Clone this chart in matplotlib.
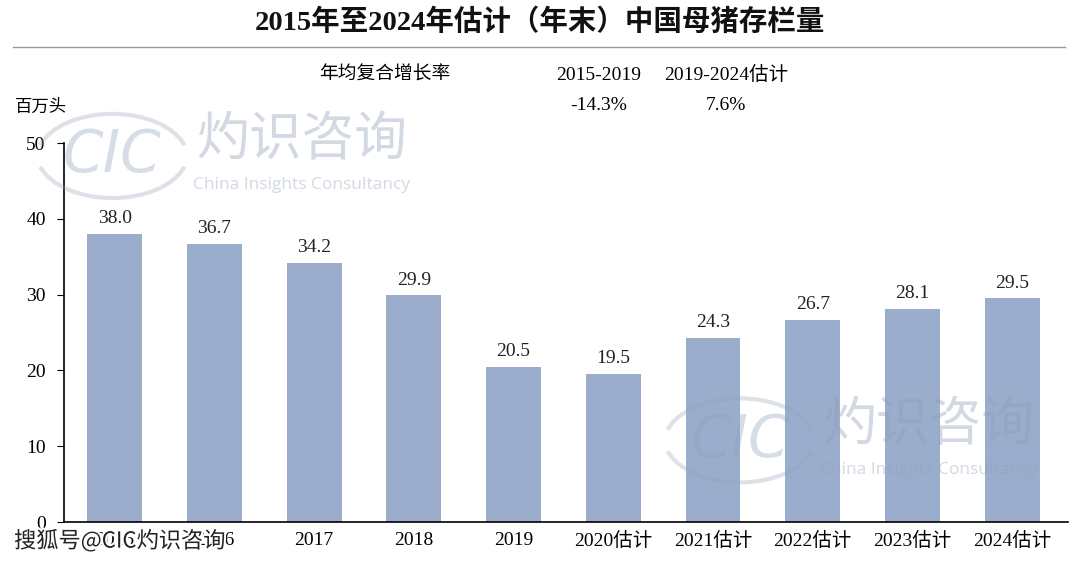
import numpy as np
import matplotlib.pyplot as plt
import matplotlib.patheffects as pe
from matplotlib.patches import Arc

years = ["2015", "2016", "2017", "2018", "2019",
         "2020估计", "2021估计", "2022估计", "2023估计", "2024估计"]
sows = [38.0, 36.7, 34.2, 29.9, 20.5, 19.5, 24.3, 26.7, 28.1, 29.5]
cagr_periods = ["2015-2019", "2019-2024估计"]
cagr_values = ["-14.3%", "7.6%"]

plt.rcParams['font.family'] = ['Liberation Serif', 'Noto Sans CJK SC']

fig = plt.figure(figsize=(10.8, 5.61), dpi=100)
ax = fig.add_axes([0.059, 0.0695, 0.930, 0.6755])

x = np.arange(len(years))
ax.bar(x, sows, width=0.55, color='#9aadcc', zorder=2)
for xi, v in zip(x, sows):
    ax.text(xi, v + 0.9, f"{v:.1f}", ha='center', va='bottom', fontsize=14, color='#222222')

ax.set_xlim(-0.51, 9.56)
ax.set_ylim(0, 50)
ax.set_yticks([0, 10, 20, 30, 40, 50])
ax.set_xticks(x)
ax.set_xticklabels(years, fontsize=14)
ax.tick_params(axis='y', labelsize=14, length=5, direction='out', pad=8)
ax.tick_params(axis='x', length=0, pad=7)
for s in ['top', 'right']:
    ax.spines[s].set_visible(False)
ax.spines['left'].set_linewidth(1.2)
ax.spines['bottom'].set_linewidth(1.2)

# title and header
fig.text(0.5, 0.96, "2015年至2024年估计（年末）中国母猪存栏量", ha='center', va='center',
         fontsize=20.5, fontweight='bold', color='#111111')
fig.add_artist(plt.Line2D([0.012, 0.986], [0.916, 0.916], color='#999999', lw=1))
fig.text(0.356, 0.866, "年均复合增长率", ha='center', va='center', fontsize=13.5)
for cx, p, v in zip([0.554, 0.672], cagr_periods, cagr_values):
    fig.text(cx, 0.866, p, ha='center', va='center', fontsize=14)
    fig.text(cx, 0.812, v, ha='center', va='center', fontsize=14)
fig.text(0.014, 0.808, "百万头", ha='left', va='center', fontsize=12.5)

# CIC watermarks
wm = '#8fa0b8'
def watermark(px, py):
    fig.text(px, py, "CIC", ha='center', va='center', fontsize=42, style='italic',
             family='DejaVu Sans', color=wm, alpha=0.35)
    fig.add_artist(Arc((px, py - 0.005), 0.14, 0.16, theta1=20, theta2=160,
                       transform=fig.transFigure, color=wm, alpha=0.3, lw=3))
    fig.add_artist(Arc((px, py + 0.005), 0.14, 0.16, theta1=200, theta2=340,
                       transform=fig.transFigure, color=wm, alpha=0.3, lw=3))
    fig.text(px + 0.175, py + 0.028, "灼识咨询", ha='center', va='center', fontsize=38,
             family='Noto Sans CJK SC', color=wm, alpha=0.4)
    fig.text(px + 0.175, py - 0.052, "China Insights Consultancy", ha='center', va='center',
             fontsize=12.5, family='Open Sans', color=wm, alpha=0.4)

watermark(0.104, 0.722)
watermark(0.685, 0.215)

fig.text(0.013, 0.036, "搜狐号@CIC灼识咨询", ha='left', va='center', fontsize=16,
         family='Noto Sans CJK SC', color='#222222',
         path_effects=[pe.withStroke(linewidth=3, foreground='white')])

fig.savefig("out.png", dpi=100, facecolor='white')
